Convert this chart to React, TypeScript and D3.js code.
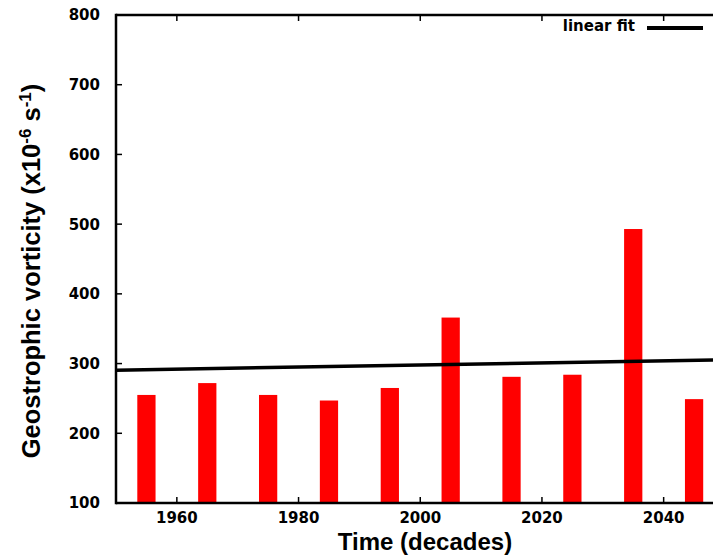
import React from "react";
import * as d3 from "d3";

// Decadal mean geostrophic vorticity (x10^-6 s^-1), bar centred mid-decade
const decades = [1955, 1965, 1975, 1985, 1995, 2005, 2015, 2025, 2035, 2045];
const vorticity = [255, 272, 255, 247, 265, 366, 281, 284, 493, 249];

// Linear trend end points
const fitYears = [1950, 2050];
const fitValues = [290.5, 305.5];

const yTicks = [100, 200, 300, 400, 500, 600, 700, 800];
const xTicks = [1960, 1980, 2000, 2020, 2040];

const W = 713;
const H = 557;

export default function App() {
  const x = d3.scaleLinear().domain([1950, 2050]).range([116, 724.5]);
  const y = d3.scaleLinear().domain([100, 800]).range([503, 15]);
  const barW = x(1953) - x(1950);

  const fitLine = d3
    .line<number>()
    .x((_, i) => x(fitYears[i]))
    .y((v) => y(v));

  const tickFont = "'DejaVu Sans', Verdana, sans-serif";
  const titleFont = "'Liberation Sans', Arial, sans-serif";

  return (
    <svg
      width={W}
      height={H}
      style={{ position: "absolute", left: 0, top: 0, background: "#fff" }}
    >
      <rect x={0} y={0} width={W} height={H} fill="#fff" />
      {/* bars */}
      {decades.map((d, i) => (
        <rect
          key={d}
          x={x(d) - barW / 2}
          y={y(vorticity[i])}
          width={barW}
          height={y(100) - y(vorticity[i])}
          fill="#ff0000"
        />
      ))}
      {/* trend line */}
      <path d={fitLine(fitValues) ?? ""} stroke="#000" strokeWidth={3.5} fill="none" />

      {/* axes frame */}
      <line x1={x(1950)} x2={W} y1={y(100)} y2={y(100)} stroke="#000" strokeWidth={2.5} />
      <line x1={x(1950)} x2={W} y1={y(800)} y2={y(800)} stroke="#000" strokeWidth={2.5} />
      <line x1={x(1950)} x2={x(1950)} y1={y(100) + 1.25} y2={y(800) - 1.25} stroke="#000" strokeWidth={2.5} />

      {/* y ticks */}
      {yTicks.map((t) => (
        <g key={t}>
          <line x1={x(1950)} x2={x(1950) + 6} y1={y(t)} y2={y(t)} stroke="#000" strokeWidth={1.5} />
          <text
            x={100}
            y={y(t)}
            dy="0.36em"
            textAnchor="end"
            fontFamily={tickFont}
            fontWeight="bold"
            fontSize={15}
          >
            {t}
          </text>
        </g>
      ))}

      {/* x ticks */}
      {xTicks.map((t) => (
        <g key={t}>
          <line x1={x(t)} x2={x(t)} y1={y(100)} y2={y(100) - 6} stroke="#000" strokeWidth={1.5} />
          <line x1={x(t)} x2={x(t)} y1={y(800)} y2={y(800) + 6} stroke="#000" strokeWidth={1.5} />
          <text
            x={x(t)}
            y={523}
            textAnchor="middle"
            fontFamily={tickFont}
            fontWeight="bold"
            fontSize={15}
          >
            {t}
          </text>
        </g>
      ))}

      {/* axis titles */}
      <text
        x={425}
        y={550}
        textAnchor="middle"
        fontFamily={titleFont}
        fontWeight="bold"
        fontSize={24}
      >
        Time (decades)
      </text>
      <text
        transform="translate(40,271) rotate(-90)"
        textAnchor="middle"
        fontFamily={titleFont}
        fontWeight="bold"
        fontSize={25.5}
      >
        Geostrophic vorticity (x10
        <tspan dy={-9} fontSize={17}>-6</tspan>
        <tspan dy={9}> s</tspan>
        <tspan dy={-9} fontSize={17}>-1</tspan>
        <tspan dy={9}>)</tspan>
      </text>

      {/* legend */}
      <text
        x={635}
        y={31}
        textAnchor="end"
        fontFamily={tickFont}
        fontWeight="bold"
        fontSize={15}
      >
        linear fit
      </text>
      <line x1={647} x2={703} y1={28} y2={28} stroke="#000" strokeWidth={4} />
    </svg>
  );
}
